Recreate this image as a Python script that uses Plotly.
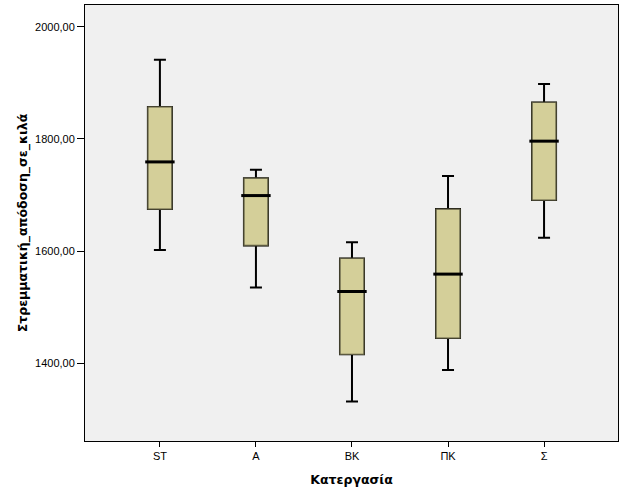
import plotly.graph_objects as go

categories = ["ST", "A", "BK", "ΠΚ", "Σ"]
lower_whisker = [1602, 1535, 1332, 1388, 1624]
q1 = [1675, 1610, 1416, 1445, 1691]
median = [1759, 1699, 1528, 1559, 1796]
q3 = [1857, 1730, 1587, 1675, 1865]
upper_whisker = [1941, 1745, 1616, 1734, 1898]

y_tickvals = [1400, 1600, 1800, 2000]
y_ticktext = ["1400,00", "1600,00", "1800,00", "2000,00"]

fill = "#D4CF99"
fig = go.Figure()
# whiskers (black)
fig.add_trace(go.Box(
    x=categories, q1=q1, median=median, q3=q3,
    lowerfence=lower_whisker, upperfence=upper_whisker,
    fillcolor=fill, line=dict(color="black", width=2),
    width=0.25, whiskerwidth=0.5, boxpoints=False, hoverinfo="skip",
    showlegend=False,
))
# box body with olive outline
fig.add_trace(go.Box(
    x=categories, q1=q1, median=median, q3=q3,
    lowerfence=q1, upperfence=q3,
    fillcolor=fill, line=dict(color="#5C5A40", width=1.3),
    width=0.25, whiskerwidth=0, boxpoints=False, hoverinfo="skip",
    showlegend=False,
))
# thick median line
fig.add_trace(go.Scatter(
    x=categories, y=median, mode="markers",
    marker=dict(symbol="line-ew", size=21, line=dict(color="black", width=3)),
    hoverinfo="skip", showlegend=False,
))

fig.update_layout(
    width=626, height=501,
    margin=dict(l=85, r=8, t=5, b=60),
    paper_bgcolor="white", plot_bgcolor="#F0F0F0",
    font=dict(family="Liberation Sans, Arial", size=11, color="black"),
    boxmode="overlay",
)
fig.update_xaxes(
    type="category", range=[-0.78, 4.77], automargin=False,
    showgrid=False, zeroline=False,
    showline=True, linecolor="black", linewidth=1, mirror=True,
    ticks="outside", ticklen=5, tickcolor="black",
    title=dict(text="Κατεργασία", font=dict(family="DejaVu Sans", size=12.5, weight="bold"), standoff=14),
)
fig.update_yaxes(
    range=[1261.5, 2038.7], automargin=False,
    tickvals=y_tickvals, ticktext=y_ticktext,
    showgrid=False, zeroline=False,
    showline=True, linecolor="black", linewidth=1, mirror=True,
    ticks="outside", ticklen=7, tickcolor="black",
    title=dict(text="Στρεμματική_απόδοση_σε_κιλά", font=dict(family="DejaVu Sans", size=12.5, weight="bold"), standoff=4),
)
fig.write_html("out.html", config={"displayModeBar": False},
               post_script="document.body.style.margin='0';")
